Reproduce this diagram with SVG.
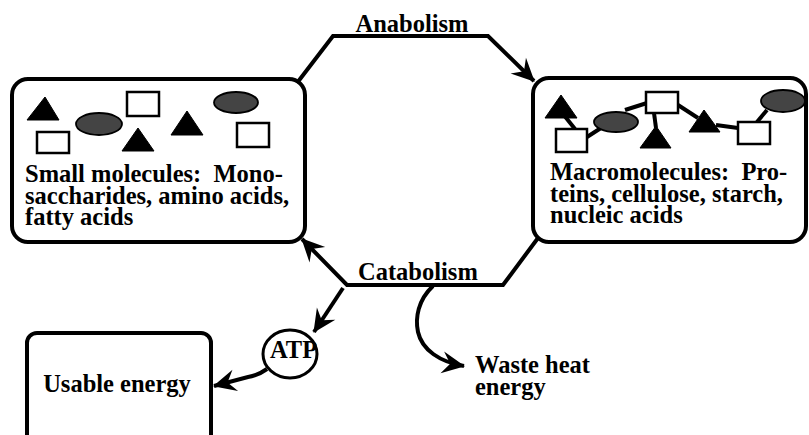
<svg xmlns="http://www.w3.org/2000/svg" width="809" height="435" viewBox="0 0 809 435">
<style>
.box{fill:#fff;stroke:#000;stroke-width:4}
.t{font-family:"Liberation Serif","Times New Roman",serif;font-weight:bold;font-size:24.5px;fill:#000;white-space:pre}
.tri{fill:#000;stroke:#000;stroke-width:1;stroke-linejoin:round}
.rc{fill:#fff;stroke:#000;stroke-width:2.5}
.el{fill:#444;stroke:#000;stroke-width:1.8}
.bond{stroke:#000;stroke-width:4;fill:none}
.con{stroke:#000;stroke-width:4;fill:none;stroke-linejoin:miter}
</style>
<defs>
<marker id="ah" markerUnits="userSpaceOnUse" viewBox="-24 -13 28 26" markerWidth="28" markerHeight="26" refX="0" refY="0" orient="auto">
<path d="M1,0 L-22,-11 L-14,0 L-22,11 Z" fill="#000"/>
</marker>
</defs>
<rect width="809" height="435" fill="#fff"/>

<g id="small-molecules">
<rect class="box" x="12" y="79" width="293" height="163" rx="16"/>
<polygon class="tri" points="45,97 27,120 59,120"/>
<rect class="rc" x="37" y="132" width="32" height="21"/>
<ellipse class="el" cx="99" cy="124" rx="23" ry="11"/>
<rect class="rc" x="127" y="92" width="32" height="24"/>
<polygon class="tri" points="138,128 122,151 154,151"/>
<polygon class="tri" points="187,111 171,135 203,135"/>
<ellipse class="el" cx="236" cy="102.5" rx="22" ry="10.5"/>
<rect class="rc" x="237" y="123" width="32" height="24"/>
<text class="t" x="25" y="182" xml:space="preserve">Small molecules:  Mono-</text>
<text class="t" x="25" y="204">saccharides, amino acids,</text>
<text class="t" x="25" y="225">fatty acids</text>
</g>

<g id="macromolecules">
<rect class="box" x="533" y="78" width="273" height="164" rx="16"/>
<line class="bond" x1="575" y1="129" x2="563" y2="114"/>
<line class="bond" x1="587" y1="137" x2="601" y2="128"/>
<line class="bond" x1="625" y1="110" x2="647" y2="103"/>
<line class="bond" x1="654" y1="113" x2="656" y2="128"/>
<line class="bond" x1="678" y1="105" x2="698" y2="118"/>
<line class="bond" x1="716" y1="125" x2="738" y2="128"/>
<line class="bond" x1="757" y1="122" x2="767" y2="110"/>
<polygon class="tri" points="561,95 545,118 577,118"/>
<rect class="rc" x="556" y="129" width="31" height="23"/>
<ellipse class="el" cx="616" cy="122" rx="22" ry="10"/>
<rect class="rc" x="646" y="92" width="32" height="21"/>
<polygon class="tri" points="656,126 640,148 671,148"/>
<polygon class="tri" points="704,110 689,132 720,132"/>
<rect class="rc" x="738" y="122" width="32" height="22"/>
<ellipse class="el" cx="783" cy="101" rx="22" ry="11"/>
<text class="t" x="550" y="180" xml:space="preserve">Macromolecules:  Pro-</text>
<text class="t" x="550" y="202">teins, cellulose, starch,</text>
<text class="t" x="550" y="223">nucleic acids</text>
</g>

<g id="atp">
<ellipse cx="290" cy="354" rx="27" ry="24" fill="#fff" stroke="#000" stroke-width="3"/>
<text class="t" x="270" y="358" font-size="24px">ATP</text>
</g>

<g id="usable-energy">
<rect class="box" x="27" y="333" width="184" height="120" rx="10"/>
<text class="t" x="117" y="392" text-anchor="middle">Usable energy</text>
</g>

<g id="waste-heat">
<text class="t" x="475" y="373">Waste heat</text>
<text class="t" x="475" y="395">energy</text>
</g>

<g id="connectors">
<path class="con" d="M297,83 L333,36 L488,36 L534,81" marker-end="url(#ah)"/>
<text class="t" x="412" y="32" text-anchor="middle">Anabolism</text>
<path class="con" d="M538,238 L503,285 L347,285 L302,239" marker-end="url(#ah)"/>
<text class="t" x="358" y="280">Catabolism</text>
<path class="con" d="M343,288 L314,332" marker-end="url(#ah)"/>
<path class="con" d="M267,369 C260,374 255,376 248,377 L214,386" marker-end="url(#ah)"/>
<path class="con" d="M433,286 C418,300 415,318 418,332 C422,350 440,362 464,366" marker-end="url(#ah)"/>
</g>
</svg>
